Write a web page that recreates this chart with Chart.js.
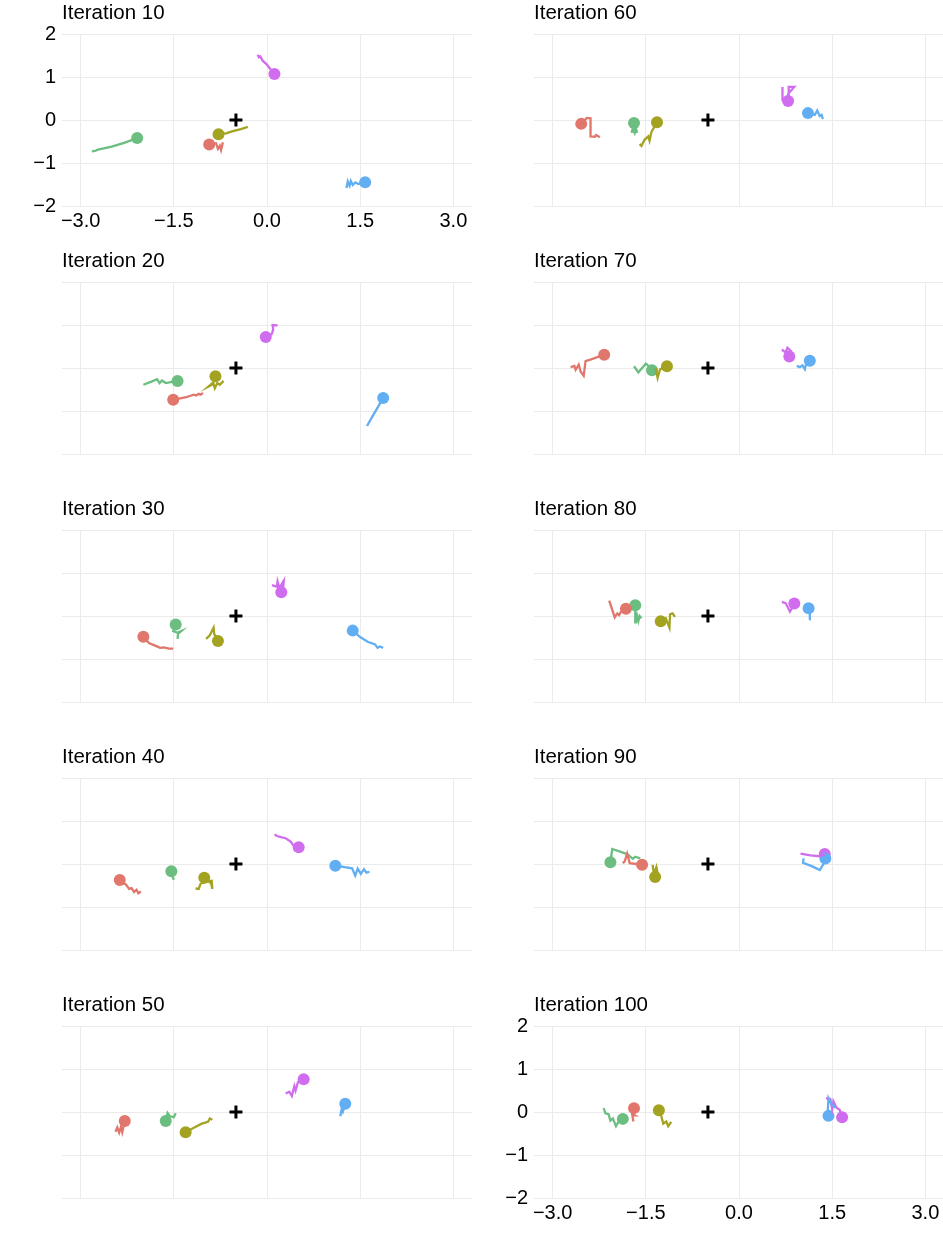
<!DOCTYPE html>
<html>
<head>
<meta charset="utf-8">
<script src="https://cdn.jsdelivr.net/npm/chart.js@4.4.1/dist/chart.umd.min.js"></script>
<style>
  html, body { margin: 0; padding: 0; background: #fff; overflow: hidden; }
  #page { position: relative; width: 943px; height: 1239px; }
  .panel { position: absolute; width: 472px; height: 240px; }
</style>
</head>
<body>
<div id="page"></div>
<script>
/* ── Series colours (red, olive, green, blue, magenta) ── */
const COLORS = ['#E0766C', '#A3A321', '#6BBE80', '#61AEF2', '#D06DEF'];

/* ── Axis ticks / centre marker ── */
const X_TICKS = [-3, -1.5, 0, 1.5, 3];
const Y_TICKS = [-2, -1, 0, 1, 2];
const CENTER  = [-0.5, 0];

/* ── Trajectories: [x, y] from tail to current position ── */
const it10Red   = [[-0.71,-0.52],[-0.74,-0.70],[-0.76,-0.60],[-0.79,-0.67],[-0.82,-0.54],[-0.93,-0.57]];
const it10Olive = [[-0.31,-0.16],[-0.42,-0.21],[-0.55,-0.26],[-0.66,-0.31],[-0.78,-0.33]];
const it10Green = [[-2.82,-0.73],[-2.77,-0.72],[-2.72,-0.69],[-2.50,-0.62],[-2.30,-0.53],[-2.09,-0.42]];
const it10Blue  = [[1.28,-1.58],[1.30,-1.43],[1.33,-1.53],[1.35,-1.42],[1.38,-1.51],[1.42,-1.45],[1.47,-1.49],[1.58,-1.45]];
const it10Mag   = [[-0.15,1.52],[-0.13,1.46],[-0.11,1.48],[-0.07,1.38],[-0.01,1.30],[0.05,1.19],[0.12,1.07]];

const it20Red   = [[-1.03,-0.58],[-1.07,-0.62],[-1.10,-0.60],[-1.14,-0.64],[-1.18,-0.62],[-1.30,-0.68],[-1.51,-0.74]];
const it20Olive = [[-0.70,-0.30],[-0.76,-0.39],[-0.80,-0.35],[-0.84,-0.47],[-0.86,-0.37],[-0.94,-0.43],[-0.86,-0.33],[-0.83,-0.19]];
const it20Green = [[-1.99,-0.39],[-1.85,-0.31],[-1.77,-0.26],[-1.73,-0.35],[-1.69,-0.29],[-1.63,-0.35],[-1.55,-0.33],[-1.44,-0.30]];
const it20Blue  = [[1.61,-1.35],[1.70,-1.12],[1.78,-0.92],[1.87,-0.70]];
const it20Mag   = [[0.17,0.99],[0.09,1.00],[0.10,0.90],[0.08,0.80],[0.03,0.73],[-0.02,0.72]];

const it30Red   = [[-1.51,-0.76],[-1.58,-0.76],[-1.66,-0.73],[-1.72,-0.74],[-1.80,-0.69],[-1.85,-0.66],[-1.90,-0.63],[-1.99,-0.48]];
const it30Olive = [[-0.98,-0.53],[-0.92,-0.45],[-0.86,-0.27],[-0.85,-0.42],[-0.81,-0.50],[-0.79,-0.58]];
const it30Green = [[-1.44,-0.53],[-1.43,-0.38],[-1.38,-0.35],[-1.42,-0.40],[-1.51,-0.35],[-1.47,-0.20]];
const it30Blue  = [[1.87,-0.74],[1.82,-0.71],[1.78,-0.74],[1.74,-0.66],[1.62,-0.60],[1.50,-0.49],[1.38,-0.34]];
const it30Mag   = [[0.08,0.72],[0.16,0.68],[0.17,0.80],[0.20,0.65],[0.27,0.82],[0.26,0.66],[0.23,0.55]];

const it40Red   = [[-2.03,-0.64],[-2.07,-0.68],[-2.10,-0.60],[-2.14,-0.65],[-2.18,-0.56],[-2.22,-0.58],[-2.27,-0.48],[-2.37,-0.37]];
const it40Olive = [[-1.15,-0.57],[-1.10,-0.58],[-1.07,-0.46],[-0.98,-0.41],[-0.89,-0.39],[-0.88,-0.58],[-0.90,-0.45],[-1.01,-0.32]];
const it40Green = [[-1.50,-0.37],[-1.52,-0.29],[-1.54,-0.17]];
const it40Blue  = [[1.65,-0.18],[1.60,-0.20],[1.56,-0.12],[1.51,-0.23],[1.46,-0.11],[1.42,-0.27],[1.37,-0.10],[1.20,-0.06],[1.10,-0.04]];
const it40Mag   = [[0.12,0.69],[0.16,0.65],[0.24,0.62],[0.30,0.60],[0.38,0.52],[0.42,0.44],[0.51,0.39]];

const it50Red   = [[-2.44,-0.46],[-2.41,-0.36],[-2.38,-0.48],[-2.35,-0.34],[-2.33,-0.47],[-2.31,-0.35],[-2.29,-0.21]];
const it50Olive = [[-0.88,-0.18],[-0.92,-0.15],[-0.95,-0.23],[-1.05,-0.27],[-1.17,-0.36],[-1.31,-0.47]];
const it50Green = [[-1.47,-0.03],[-1.50,-0.12],[-1.56,-0.10],[-1.60,-0.02],[-1.63,-0.21]];
const it50Blue  = [[1.18,-0.10],[1.20,0.05],[1.22,0.00],[1.26,0.19]];
const it50Mag   = [[0.30,0.43],[0.36,0.47],[0.40,0.37],[0.44,0.60],[0.46,0.50],[0.50,0.70],[0.59,0.76]];

const it60Red   = [[-2.24,-0.40],[-2.30,-0.35],[-2.32,-0.39],[-2.39,-0.38],[-2.39,0.04],[-2.45,0.05],[-2.54,-0.09]];
const it60Olive = [[-1.60,-0.56],[-1.57,-0.60],[-1.52,-0.46],[-1.46,-0.38],[-1.44,-0.48],[-1.41,-0.28],[-1.32,-0.05]];
const it60Green = [[-1.73,-0.30],[-1.71,-0.20],[-1.68,-0.30],[-1.66,-0.19],[-1.64,-0.30],[-1.69,-0.07]];
const it60Blue  = [[1.35,0.02],[1.33,0.12],[1.30,0.09],[1.26,0.22],[1.22,0.12],[1.11,0.16]];
const it60Mag   = [[0.70,0.77],[0.70,0.46],[0.76,0.42],[0.80,0.55],[0.80,0.77],[0.89,0.77],[0.80,0.62],[0.79,0.44]];

const it70Red   = [[-2.71,0.02],[-2.65,0.05],[-2.63,-0.04],[-2.58,0.08],[-2.55,-0.08],[-2.50,-0.18],[-2.47,0.16],[-2.38,0.20],[-2.17,0.31]];
const it70Olive = [[-1.34,0.00],[-1.31,-0.23],[-1.27,-0.03],[-1.16,0.04]];
const it70Green = [[-1.69,0.04],[-1.62,-0.10],[-1.56,0.00],[-1.50,0.10],[-1.45,0.04],[-1.40,-0.05]];
const it70Blue  = [[0.93,0.05],[0.98,0.02],[1.02,0.06],[1.06,-0.03],[1.08,0.10],[1.14,0.17]];
const it70Mag   = [[0.69,0.43],[0.75,0.36],[0.78,0.47],[0.84,0.39],[0.81,0.27]];

const it80Red   = [[-2.09,0.36],[-2.00,-0.03],[-1.96,0.06],[-1.93,0.02],[-1.90,0.10],[-1.82,0.17]];
const it80Olive = [[-1.03,-0.02],[-1.07,0.06],[-1.11,0.04],[-1.12,-0.27],[-1.18,-0.05],[-1.26,-0.12]];
const it80Green = [[-1.57,-0.05],[-1.60,0.00],[-1.62,-0.12],[-1.64,0.00],[-1.66,-0.15],[-1.67,0.25]];
const it80Blue  = [[1.13,-0.08],[1.14,0.05],[1.12,0.18]];
const it80Mag   = [[0.69,0.33],[0.75,0.30],[0.82,0.10],[0.86,0.20],[0.89,0.29]];

const it90Red   = [[-1.87,0.02],[-1.84,0.06],[-1.80,0.24],[-1.76,0.02],[-1.65,0.00],[-1.56,-0.02]];
const it90Olive = [[-1.39,-0.02],[-1.37,-0.25],[-1.33,-0.07],[-1.31,-0.22],[-1.35,-0.30]];
const it90Green = [[-1.59,0.13],[-1.67,0.17],[-1.71,0.12],[-1.80,0.23],[-2.04,0.35],[-2.07,0.04]];
const it90Blue  = [[1.04,0.13],[1.03,0.03],[1.17,-0.05],[1.30,-0.14],[1.36,0.00],[1.39,0.13]];
const it90Mag   = [[0.99,0.24],[1.15,0.20],[1.30,0.18],[1.38,0.23]];

const it100Red   = [[-1.70,-0.22],[-1.72,-0.05],[-1.68,-0.08],[-1.69,0.09]];
const it100Olive = [[-1.09,-0.23],[-1.14,-0.33],[-1.17,-0.22],[-1.22,-0.27],[-1.25,-0.10],[-1.29,0.04]];
const it100Green = [[-2.18,0.09],[-2.15,-0.03],[-2.10,-0.05],[-2.07,-0.20],[-2.03,-0.15],[-1.98,-0.33],[-1.93,-0.20],[-1.87,-0.16]];
const it100Blue  = [[1.55,0.10],[1.48,0.20],[1.44,0.32],[1.43,0.05],[1.44,-0.09]];
const it100Mag   = [[1.40,0.32],[1.47,0.30],[1.50,0.07],[1.52,0.25],[1.57,0.10],[1.62,0.05],[1.66,-0.12]];

/* ── Panel list: title, paths, grid slot, which axes show labels ── */
const PANELS = [
  { title: 'Iteration 10',  paths: [it10Red, it10Olive, it10Green, it10Blue, it10Mag],      col: 0, row: 0, axes: true },
  { title: 'Iteration 20',  paths: [it20Red, it20Olive, it20Green, it20Blue, it20Mag],      col: 0, row: 1 },
  { title: 'Iteration 30',  paths: [it30Red, it30Olive, it30Green, it30Blue, it30Mag],      col: 0, row: 2 },
  { title: 'Iteration 40',  paths: [it40Red, it40Olive, it40Green, it40Blue, it40Mag],      col: 0, row: 3 },
  { title: 'Iteration 50',  paths: [it50Red, it50Olive, it50Green, it50Blue, it50Mag],      col: 0, row: 4 },
  { title: 'Iteration 60',  paths: [it60Red, it60Olive, it60Green, it60Blue, it60Mag],      col: 1, row: 0 },
  { title: 'Iteration 70',  paths: [it70Red, it70Olive, it70Green, it70Blue, it70Mag],      col: 1, row: 1 },
  { title: 'Iteration 80',  paths: [it80Red, it80Olive, it80Green, it80Blue, it80Mag],      col: 1, row: 2 },
  { title: 'Iteration 90',  paths: [it90Red, it90Olive, it90Green, it90Blue, it90Mag],      col: 1, row: 3 },
  { title: 'Iteration 100', paths: [it100Red, it100Olive, it100Green, it100Blue, it100Mag], col: 1, row: 4, axes: true }
];

const FONT = 'Liberation Sans, Arial, Helvetica, sans-serif';
const _grid = { color: '#EBEBEB', lineWidth: 1, drawTicks: false };
const fmt = d => v => (v < 0 ? '\u2212' : '') + Math.abs(v).toFixed(d);
const toPts = arr => arr.map(([x, y]) => ({ x, y }));

function mkPanel(p) {
  const wrap = document.createElement('div');
  wrap.className = 'panel';
  wrap.style.left = (p.col * 472) + 'px';
  wrap.style.top  = (p.row * 248) + 'px';
  const canvas = document.createElement('canvas');
  wrap.appendChild(canvas);
  document.getElementById('page').appendChild(wrap);

  const lines = p.paths.map((path, i) => ({
    data: toPts(path),
    showLine: true,
    borderColor: COLORS[i],
    borderWidth: 2.3,
    pointRadius: 0,
    fill: false,
    tension: 0
  }));
  const dots = p.paths.map((path, i) => ({
    data: toPts(path.slice(-1)),
    pointRadius: 6,
    backgroundColor: COLORS[i],
    borderWidth: 0
  }));
  const centre = {
    data: [{ x: CENTER[0], y: CENTER[1] }],
    pointStyle: 'cross',
    pointRadius: 6.5,
    borderColor: '#000',
    borderWidth: 3
  };

  new Chart(canvas, {
    type: 'scatter',
    data: { datasets: [...lines, ...dots, centre] },
    options: {
      responsive: true,
      maintainAspectRatio: false,
      animation: false,
      layout: { padding: 0, autoPadding: false },
      plugins: {
        legend: { display: false },
        tooltip: { enabled: false },
        title: {
          display: true,
          text: p.title,
          align: 'start',
          fullSize: false,
          color: '#000',
          font: { family: FONT, size: 20.5, weight: 'normal' },
          padding: { top: 1, bottom: 8.4 }
        }
      },
      scales: {
        x: {
          type: 'linear',
          min: -3.3, max: 3.3,
          afterBuildTicks: s => { s.ticks = X_TICKS.map(v => ({ value: v })); },
          afterFit: s => { s.height = 34; },
          grid: _grid,
          border: { display: false },
          ticks: {
            display: !!p.axes,
            autoSkip: false,
            maxRotation: 0,
            padding: 3,
            color: '#000',
            font: { family: FONT, size: 20 },
            callback: fmt(1)
          }
        },
        y: {
          type: 'linear',
          min: -2, max: 2,
          afterBuildTicks: s => { s.ticks = Y_TICKS.map(v => ({ value: v })); },
          afterFit: s => { s.width = 62; },
          grid: _grid,
          border: { display: false },
          ticks: {
            display: !!p.axes,
            padding: 6,
            color: '#000',
            font: { family: FONT, size: 20 },
            callback: fmt(0)
          }
        }
      }
    }
  });
}

PANELS.forEach(mkPanel);
</script>
</body>
</html>
